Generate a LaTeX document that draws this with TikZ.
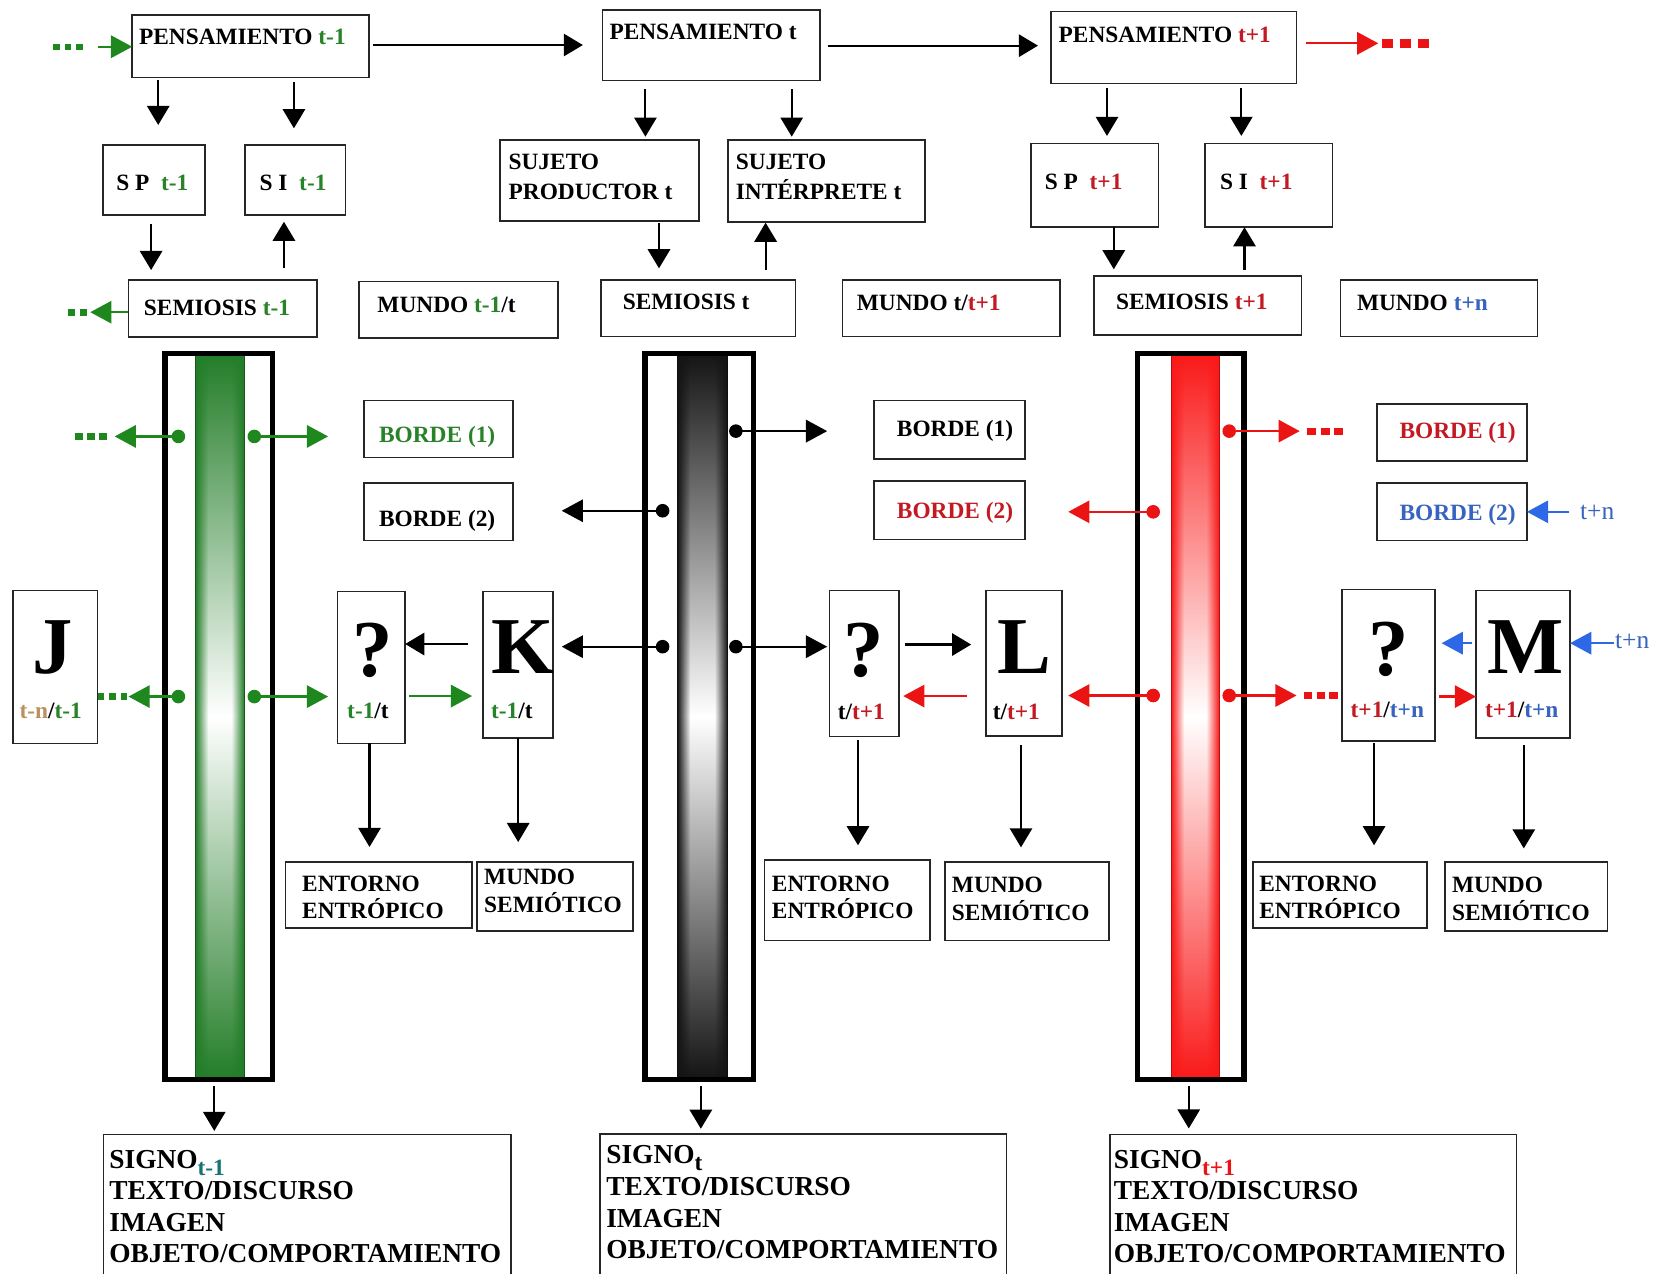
\documentclass[tikz,border=0pt]{standalone}
\usepackage{fontspec}
\setmainfont{Liberation Serif}
\usetikzlibrary{arrows.meta,fadings}

\definecolor{gtxt}{RGB}{40,130,40}
\definecolor{garr}{RGB}{30,135,30}
\definecolor{rtxt}{RGB}{195,25,35}
\definecolor{rarr}{RGB}{235,20,20}
\definecolor{btxt}{RGB}{55,100,190}
\definecolor{barr}{RGB}{45,105,230}
\definecolor{teal2}{RGB}{20,115,115}
\definecolor{tan2}{RGB}{185,145,95}
\definecolor{gcol}{RGB}{35,125,40}
\definecolor{kcol}{RGB}{20,20,20}
\definecolor{rcol}{RGB}{250,25,25}

\newcommand\Gt[1]{\textcolor{gtxt}{#1}}
\newcommand\Rt[1]{\textcolor{rtxt}{#1}}
\newcommand\Bt[1]{\textcolor{btxt}{#1}}

\tikzfading[name=fadeR, left color=transparent!0, right color=transparent!100]
\tikzfading[name=fadeL, left color=transparent!100, right color=transparent!0]

\tikzset{
  bx/.style={draw=black!85, line width=0.75pt, inner sep=0pt, outer sep=0pt, anchor=north west},
  colfr/.style={draw=black, line width=2.5pt, inner sep=0pt, outer sep=0pt, anchor=north west},
  lbl/.style={inner sep=0pt, outer sep=0pt, anchor=base west, font=\fontsize{11}{13}\selectfont\bfseries},
  sml/.style={inner sep=0pt, outer sep=0pt, anchor=base west, font=\fontsize{12}{13}\selectfont, text=btxt},
  sg/.style={inner sep=0pt, outer sep=0pt, anchor=base west, font=\fontsize{12.9}{15}\selectfont\bfseries},
  big/.style={inner sep=0pt, outer sep=0pt, anchor=base, font=\fontsize{38}{38}\selectfont\bfseries},
  arr/.style={line width=1pt, -{Triangle[length=9pt,width=10.5pt]}},
  carr/.style={line width=1.1pt, -{Triangle[length=10pt,width=10.5pt]}},
  tailsty/.style={line width=3.2pt},
  dotr/.style={radius=3.2pt}
}

\newcommand\mkbox[5]{\node[bx, minimum width={(#4-#2)*0.5pt}, minimum height={(#5-#3)*0.5pt}] (#1) at (#2,#3) {};}
\newcommand\mkcol[6]{%
  \shade[top color=#6, bottom color=#6, middle color=white] (#4,333) rectangle (#5,1016.5);
  \fill[#6, path fading=fadeR] (#4,333) rectangle ({#4+12},1016.5);
  \fill[#6, path fading=fadeL] ({#5-12},333) rectangle (#5,1016.5);
  \draw[#6!70!black, line width=0.5pt] (#4,333) -- (#4,1016.5) (#5,333) -- (#5,1016.5);
  \node[colfr, minimum width={(#3-#2)*0.5pt}, minimum height={(1016.5-333)*0.5pt}] (#1) at (#2,333) {};}

\begin{document}
\begin{tikzpicture}[x=0.5pt,y=-0.5pt]
\useasboundingbox (0,0) rectangle (1568,1199);
\fill[white] (0,0) rectangle (1568,1199);

% ---------- top row boxes ----------
\mkbox{p1}{124.5}{14}{347.5}{73}
\mkbox{p2}{567.4}{9.5}{772}{76}
\mkbox{p3}{990}{11}{1221}{78.5}
\mkbox{sp1}{97}{136.5}{193}{202.5}
\mkbox{si1}{231}{136.5}{325.5}{202.5}
\mkbox{spr2}{471}{132}{658}{208}
\mkbox{sin2}{685.5}{132}{871}{209}
\mkbox{sp3}{971}{135}{1091}{214}
\mkbox{si3}{1134.8}{135}{1255}{214}
\mkbox{sem1}{121}{263.7}{298.3}{317.5}
\mkbox{mun1}{338}{265}{525.4}{318.5}
\mkbox{sem2}{565.7}{263.7}{749}{317}
\mkbox{mun2}{793.4}{263.7}{998.2}{317}
\mkbox{sem3}{1030.2}{260}{1225.5}{315.5}
\mkbox{mun3}{1262.5}{263.7}{1448}{317}

\node[lbl] (tp1) at (131,41.5) {PENSAMIENTO \Gt{t-1}};
\node[lbl] (tp2) at (574,37) {PENSAMIENTO t};
\node[lbl] (tp3) at (997,40) {PENSAMIENTO \Rt{t+1}};
\node[lbl] (tsp1) at (109.5,179.5) {S P\ \ \Gt{t-1}};
\node[lbl] (tsi1) at (244.5,179.5) {S I\ \ \Gt{t-1}};
\node[lbl] (tspa) at (479,160) {SUJETO};
\node[lbl] (tspb) at (479,187.5) {PRODUCTOR t};
\node[lbl] (tsia) at (693,160) {SUJETO};
\node[lbl] (tsib) at (693,187.5) {INTÉRPRETE t};
\node[lbl] (tsp3) at (984,178) {S P\ \ \Rt{t+1}};
\node[lbl] (tsi3) at (1149,178) {S I\ \ \Rt{t+1}};
\node[lbl] (tsem1) at (135.6,297) {SEMIOSIS \Gt{t-1}};
\node[lbl] (tmun1) at (355.5,294) {MUNDO \Gt{t-1}/t};
\node[lbl] (tsem2) at (586.6,291) {SEMIOSIS t};
\node[lbl] (tmun2) at (807,292.5) {MUNDO t/\Rt{t+1}};
\node[lbl] (tsem3) at (1051,291) {SEMIOSIS \Rt{t+1}};
\node[lbl] (tmun3) at (1278,292.5) {MUNDO \Bt{t+n}};

% top arrows
\draw[arr,shorten <=1.65pt,shorten >=9.25pt] (p1.east |- 0,42.4) -- (p2.west |- 0,42.4);
\draw[arr,shorten <=3.65pt,shorten >=6.25pt] (p2.east |- 0,43) -- (p3.west |- 0,43);
\draw[arr,shorten <=1.15pt,shorten >=9.4pt] (p1.south -| 149,0) -- (sp1.north -| 149,0);
\draw[arr,shorten <=2pt,shorten >=7.85pt] (p1.south -| 276.8,0) -- (si1.north -| 276.8,0);
\draw[arr,shorten <=4.35pt,shorten >=4.7pt] (sp1.south -| 142.3,0) -- (sem1.north -| 142.3,0);
\draw[arr,shorten <=5.5pt,shorten >=3.15pt] (sem1.north -| 267.4,0) -- (si1.south -| 267.4,0);
\draw[arr,shorten <=4pt,shorten >=1.65pt] (p2.south -| 607.8,0) -- (spr2.north -| 607.8,0);
\draw[arr,shorten <=4pt,shorten >=1.65pt] (p2.south -| 745.6,0) -- (sin2.north -| 745.6,0);
\draw[arr,shorten <=1.15pt,shorten >=5.5pt] (spr2.south -| 620.6,0) -- (sem2.north -| 620.6,0);
\draw[arr,shorten <=4.7pt,shorten >=0.35pt] (sem2.north -| 721,0) -- (sin2.south -| 721,0);
\draw[arr,shorten <=2.35pt,shorten >=3.5pt] (p3.south -| 1042.5,0) -- (sp3.north -| 1042.5,0);
\draw[arr,shorten <=2.35pt,shorten >=3.5pt] (p3.south -| 1169,0) -- (si3.north -| 1169,0);
\draw[arr,shorten >=3.2pt] (sp3.south -| 1048.9,0) -- (sem3.north -| 1048.9,0);
\draw[arr,shorten <=2.85pt] (sem3.north -| 1172,0) -- (si3.south -| 1172,0);

% green in / red out at top
\coordinate (gin) at (92,44);
\coordinate (gta) at (50,44);
\coordinate (gtb) at (78,44);
\draw[carr,garr] (gin) -- (p1.west |- gin);
\draw[garr,line width=2.8pt,dash pattern=on 3.2pt off 2.2pt] (gta) -- (gtb);
\coordinate (sout) at (85,294);
\coordinate (sta) at (64,294);
\coordinate (stb) at (82,294);
\draw[carr,garr] (sem1.west |- sout) -- (sout);
\draw[garr,tailsty,dash pattern=on 3.5pt off 2pt] (sta) -- (stb);
\coordinate (rout) at (1298,40.8);
\coordinate (rta) at (1301,40.8);
\coordinate (rtb) at (1346,40.8);
\draw[carr,rarr,shorten <=4.5pt] (p3.east |- rout) -- (rout);
\draw[rarr,line width=4pt,dash pattern=on 5.5pt off 3pt] (rta) -- (rtb);

% ---------- columns ----------
\mkcol{col1}{155.5}{256.5}{184}{230}{gcol}
\mkcol{col2}{607.5}{709.5}{638}{685}{kcol}
\mkcol{col3}{1071.5}{1171.5}{1103}{1148}{rcol}

% ---------- BORDE boxes ----------
\mkbox{bg1}{343}{377}{483}{431}
\mkbox{bg2}{343}{455}{483}{509}
\mkbox{bk1}{823}{377}{965}{432}
\mkbox{bk2}{823}{453}{965}{508}
\mkbox{br1}{1297}{380.5}{1438}{434}
\mkbox{br2}{1297}{455}{1438}{509}
\node[lbl,text=gtxt] (tbg1) at (357,417) {BORDE (1)};
\node[lbl] (tbg2) at (357,496) {BORDE (2)};
\node[lbl] (tbk1) at (844.7,411) {BORDE (1)};
\node[lbl,text=rtxt] (tbk2) at (844.7,488.5) {BORDE (2)};
\node[lbl,text=rtxt] (tbr1) at (1318,412.5) {BORDE (1)};
\node[lbl,text=btxt] (tbr2) at (1318,490) {BORDE (2)};

% ---------- letter boxes ----------
\mkbox{J}{12}{556}{92}{700}
\mkbox{q1}{318}{557}{381.6}{700}
\mkbox{K}{455}{557}{521}{695}
\mkbox{q2}{781}{556}{846.6}{693.7}
\mkbox{L}{928.6}{556}{1000}{693}
\mkbox{q3}{1264}{555}{1351.6}{698}
\mkbox{M}{1390}{556}{1478.6}{695}
\node[big] (lJ) at (49.5,634) {J};
\node[big] (lq1) at (350.5,637) {?};
\node[big] (lK) at (492,634) {K};
\node[big] (lq2) at (813,637) {?};
\node[big] (lL) at (964.5,634) {L};
\node[big] (lq3) at (1308,636) {?};
\node[big] (lM) at (1437,634) {M};
\node[lbl] (sJ) at (18.5,677) {\textcolor{tan2}{t-n}/\Gt{t-1}};
\node[lbl] (sq1) at (327,677) {\Gt{t-1}/t};
\node[lbl] (sK) at (462.5,677) {\Gt{t-1}/t};
\node[lbl] (sq2) at (789,678) {t/\Rt{t+1}};
\node[lbl] (sL) at (935,678) {t/\Rt{t+1}};
\node[lbl] (sq3) at (1272,676) {\Rt{t+1}/\Bt{t+n}};
\node[lbl] (sM) at (1398.6,676) {\Rt{t+1}/\Bt{t+n}};

% ---------- column dots & arrows ----------
% green
\coordinate (g1) at (168,411);  \coordinate (g2) at (239.5,411);
\coordinate (g3) at (168,656);  \coordinate (g4) at (239.5,656);
\coordinate (g1e) at (108,411); \coordinate (g2e) at (309,411);
\coordinate (g3e) at (121,656);
\coordinate (g1a) at (71,411);  \coordinate (g1b) at (101,411);
\coordinate (g3a) at (92,656);  \coordinate (g3b) at (120,656);
\draw[carr,garr] (g1) -- (g1e);
\draw[carr,garr] (g2) -- (g2e);
\draw[carr,garr] (g3) -- (g3e);
\draw[carr,garr,shorten >=4.5pt] (g4) -- (q1.west |- g4);
\draw[garr,tailsty,dash pattern=on 3.8pt off 1.8pt] (g1a) -- (g1b);
\draw[garr,tailsty,dash pattern=on 3.2pt off 2.2pt] (g3a) -- (g3b);
\foreach \d in {g1,g2,g3,g4} \fill[garr] (\d) circle[dotr];
\draw[carr,garr,shorten <=2pt,shorten >=5.2pt] (q1.east |- 0,655.5) -- (K.west |- 0,655.5);
\draw[arr,shorten <=7pt] (K.west |- 0,606.5) -- (q1.east |- 0,606.5);
% black
\coordinate (k1) at (693,406);  \coordinate (k2) at (624,481);
\coordinate (k3) at (624,609);  \coordinate (k4) at (693,609);
\coordinate (k1e) at (779,406); \coordinate (k2e) at (529,481);
\draw[carr] (k1) -- (k1e);
\draw[carr] (k2) -- (k2e);
\draw[carr,shorten >=4pt] (k3) -- (K.east |- k3);
\draw[carr,shorten >=1pt] (k4) -- (q2.west |- k4);
\foreach \d in {k1,k2,k3,k4} \fill[black] (\d) circle[dotr];
\draw[arr,shorten <=2.7pt,shorten >=7pt] (q2.east |- 0,607) -- (L.west |- 0,607);
\draw[carr,rarr,shorten <=9pt,shorten >=2pt] (L.west |- 0,655.5) -- (q2.east |- 0,655.5);
% red
\coordinate (r1) at (1157.6,406); \coordinate (r2) at (1086,482);
\coordinate (r3) at (1086,655);   \coordinate (r4) at (1157.6,655);
\coordinate (r1e) at (1224,406);  \coordinate (r2e) at (1006,482);
\coordinate (r4e) at (1221,655);
\coordinate (r1a) at (1231,406);  \coordinate (r1b) at (1265,406);
\coordinate (r4a) at (1228,655);  \coordinate (r4b) at (1260,655);
\draw[carr,rarr] (r1) -- (r1e);
\draw[carr,rarr] (r2) -- (r2e);
\draw[carr,rarr,shorten >=3pt] (r3) -- (L.east |- r3);
\draw[carr,rarr] (r4) -- (r4e);
\draw[rarr,tailsty,dash pattern=on 4.2pt off 2.2pt] (r1a) -- (r1b);
\draw[rarr,tailsty,dash pattern=on 4pt off 2pt] (r4a) -- (r4b);
\foreach \d in {r1,r2,r3,r4} \fill[rarr] (\d) circle[dotr];
\draw[carr,rarr,shorten <=1.7pt] (q3.east |- 0,656) -- (M.west |- 0,656);
% blue
\draw[carr,barr,shorten <=2pt,shorten >=3pt] (M.west |- 0,605.7) -- (q3.east |- 0,605.7);
\coordinate (bm) at (1519.5,605.7);
\coordinate (bb) at (1478,482);
\draw[carr,barr] (bm) -- (M.east |- bm);
\draw[carr,barr] (bb) -- (br2.east |- bb);
\node[sml] (tnm) at (1521,611) {t+n};
\node[sml] (tnb) at (1488,489) {t+n};

% ---------- lower boxes ----------
\mkbox{ent1}{269}{811.6}{444.7}{874}
\mkbox{ms1}{449}{811.6}{596}{877}
\mkbox{ent2}{720}{810}{875.8}{885.7}
\mkbox{ms2}{890}{811.7}{1044.5}{885.7}
\mkbox{ent3}{1180}{811.6}{1344}{874}
\mkbox{ms3}{1361}{811.6}{1514}{877}
\node[lbl] (te1a) at (284.6,840) {ENTORNO};
\node[lbl] (te1b) at (284.6,864.6) {ENTRÓPICO};
\node[lbl] (tm1a) at (456,833) {MUNDO};
\node[lbl] (tm1b) at (456,859) {SEMIÓTICO};
\node[lbl] (te2a) at (727,840) {ENTORNO};
\node[lbl] (te2b) at (727,864.6) {ENTRÓPICO};
\node[lbl] (tm2a) at (896.5,840.7) {MUNDO};
\node[lbl] (tm2b) at (896.5,867) {SEMIÓTICO};
\node[lbl] (te3a) at (1186,840) {ENTORNO};
\node[lbl] (te3b) at (1186,864.6) {ENTRÓPICO};
\node[lbl] (tm3a) at (1367.5,840.7) {MUNDO};
\node[lbl] (tm3b) at (1367.5,867) {SEMIÓTICO};

\draw[arr,shorten >=7pt] (q1.south -| 348,0) -- (ent1.north -| 348,0);
\draw[arr,shorten >=9.3pt] (K.south -| 488,0) -- (ms1.north -| 488,0);
\draw[arr,shorten <=1.65pt,shorten >=7pt] (q2.south -| 808,0) -- (ent2.north -| 808,0);
\draw[arr,shorten <=4.3pt,shorten >=6.85pt] (L.south -| 961.5,0) -- (ms2.north -| 961.5,0);
\draw[arr,shorten <=0.85pt,shorten >=7.8pt] (q3.south -| 1294,0) -- (ent3.north -| 1294,0);
\draw[arr,shorten <=3.3pt,shorten >=6.3pt] (M.south -| 1435,0) -- (ms3.north -| 1435,0);

% ---------- SIGNO boxes ----------
\mkbox{sig1}{97.5}{1068.4}{481}{1215}
\mkbox{sig2}{565}{1068}{948}{1215}
\mkbox{sig3}{1045.5}{1068.4}{1428}{1215}
\draw[arr,shorten <=3.25pt,shorten >=1.7pt] (col1.south -| 201.8,0) -- (sig1.north -| 201.8,0);
\draw[arr,shorten <=3.25pt,shorten >=2.5pt] (col2.south -| 660,0) -- (sig2.north -| 660,0);
\draw[arr,shorten <=3.25pt,shorten >=2.85pt] (col3.south -| 1119.5,0) -- (sig3.north -| 1119.5,0);

\node[sg] (s1a) at (103,1100) {SIGNO\raisebox{-3.3pt}{\fontsize{11}{11}\selectfont\textcolor{teal2}{t-1}}};
\node[sg] (s1b) at (103,1130) {TEXTO/DISCURSO};
\node[sg] (s1c) at (103,1160) {IMAGEN};
\node[sg] (s1d) at (103,1189) {OBJETO/COMPORTAMIENTO};
\node[sg] (s2a) at (571,1096) {SIGNO\raisebox{-3.3pt}{\fontsize{11}{11}\selectfont t}};
\node[sg] (s2b) at (571,1126) {TEXTO/DISCURSO};
\node[sg] (s2c) at (571,1156) {IMAGEN};
\node[sg] (s2d) at (571,1185) {OBJETO/COMPORTAMIENTO};
\node[sg] (s3a) at (1049,1100) {SIGNO\raisebox{-3.3pt}{\fontsize{11}{11}\selectfont\textcolor{rarr}{t+1}}};
\node[sg] (s3b) at (1049,1130) {TEXTO/DISCURSO};
\node[sg] (s3c) at (1049,1160) {IMAGEN};
\node[sg] (s3d) at (1049,1189) {OBJETO/COMPORTAMIENTO};
\end{tikzpicture}
\end{document}
